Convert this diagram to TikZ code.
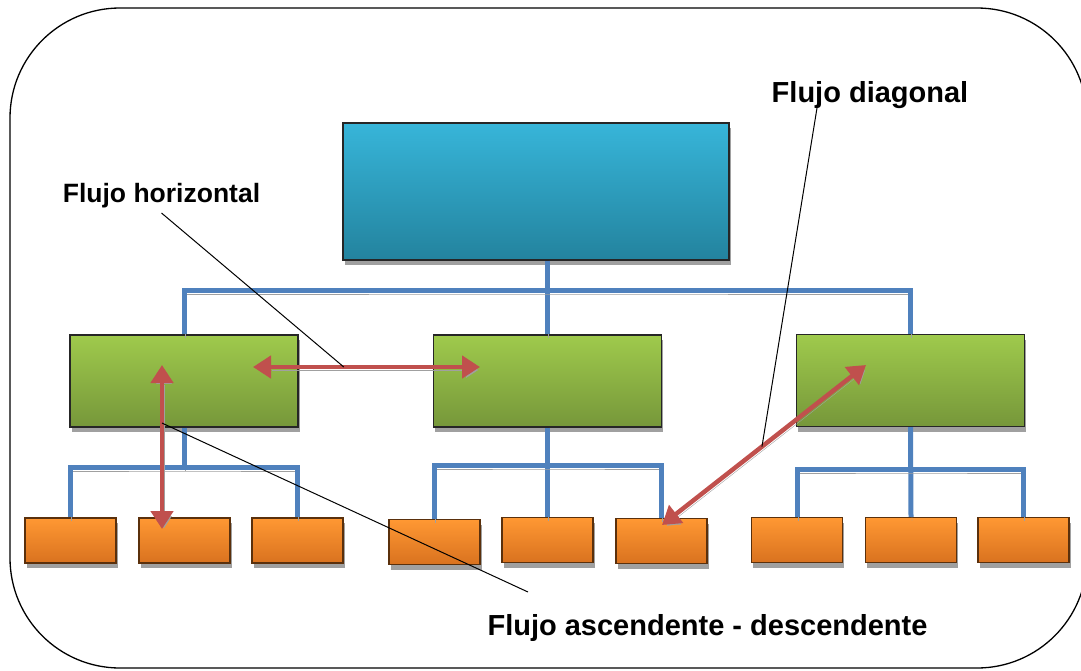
\documentclass[tikz,border=0pt]{standalone}
\usepackage{fontspec}
\setmainfont{Liberation Sans}
\usetikzlibrary{arrows.meta,positioning,calc,shadows}
\definecolor{linkblue}{HTML}{4F81BD}
\definecolor{flowred}{HTML}{C0504D}
\definecolor{shadowgray}{HTML}{A0A0A0}
\definecolor{headtop}{HTML}{37B5D9}
\definecolor{headbot}{HTML}{23839E}
\definecolor{depttop}{HTML}{9FCA4C}
\definecolor{deptbot}{HTML}{76973A}
\definecolor{leaftop}{HTML}{FF9833}
\definecolor{leafbot}{HTML}{D9721F}
\definecolor{leafedge}{HTML}{5A300C}

\begin{document}
\begin{tikzpicture}[
  x=1pt,y=-1pt,
  font=\bfseries\fontsize{26.5}{30}\selectfont,
  frame/.style={draw,line width=1.3pt,rounded corners=110pt},
  box/.style={draw=black!85,line width=1.3pt,inner sep=0pt,drop shadow={shadow xshift=1.5pt,shadow yshift=-5pt,fill=shadowgray,opacity=1}},
  topbox/.style={box,top color=headtop,bottom color=headbot,minimum width=386pt,minimum height=137pt},
  midbox/.style={box,top color=depttop,bottom color=deptbot,minimum width=228pt,minimum height=92pt},
  leafbox/.style={box,draw=leafedge,top color=leaftop,bottom color=leafbot,minimum width=91pt,minimum height=45pt},
  tree/.style={linkblue,line width=5pt,preaction={draw=shadowgray,transform canvas={shift={(1pt,-4pt)}}}},
  flow/.style={{Triangle[width=22pt,length=18pt]}-{Triangle[width=22pt,length=18pt]},flowred,line width=4.5pt,
    preaction={draw=shadowgray,transform canvas={shift={(2pt,-3pt)}}}},
  callout/.style={black,line width=1pt},
  lbl/.style={inner sep=0pt,anchor=base},
  biglbl/.style={lbl,font=\bfseries\fontsize{29}{33}\selectfont},
]
\useasboundingbox (0,0) rectangle (1081,670);
\draw[frame] (10,8) rectangle (1087,668);
% boxes
\node[topbox] (dir) at (536,191.5) {};
\node[midbox] (g1) at (184,381) {};
\node[midbox] (g2) at (547.5,381) {};
\node[midbox] (g3) at (910.5,380.5) {};
\node[leafbox] (o1) at (70.5,540.5) {};
\node[leafbox] (o2) at (184.5,540.5) {};
\node[leafbox] (o3) at (297.5,540.5) {};
\node[leafbox] (o4) at (434.5,542) {};
\node[leafbox] (o5) at (547.5,540) {};
\node[leafbox] (o6) at (661.5,541) {};
\node[leafbox] (o7) at (797,540) {};
\node[leafbox] (o8) at (911,540) {};
\node[leafbox] (o9) at (1023.5,540) {};
% tree lines
\coordinate (bus) at (547.5,290);
\coordinate (b1) at (184,467);
\coordinate (b2) at (547.5,465);
\coordinate (b3) at (910.5,469);
\draw[tree] (g2.north |- dir.south) -- (g2.north);
\draw[tree] (g1.north) |- (bus) -| (g3.north);
\draw[tree] (g1.south) -- (b1);
\draw[tree] (o1.north) |- (b1) -| (o3.north);
\draw[tree] (g2.south) -- (o5.north);
\draw[tree] (o4.north) |- (b2) -| (o6.north);
\draw[tree] (g3.south) -- (o8.north);
\draw[tree] (o7.north) |- (b3) -| (o9.north);
% flows
\coordinate (hl) at (253,367);
\coordinate (hr) at (480,367);
\coordinate (vt) at (162,365);
\coordinate (vb) at (162,529);
\coordinate (dl) at (662,525);
\coordinate (du) at (866,365);
\draw[flow] (hl) -- (hr);
\draw[flow] (vt) -- (vb);
\draw[flow] (dl) -- (du);
% labels
\node[lbl] (lh) at (161.5,202) {Flujo horizontal};
\node[biglbl] (ld) at (870,102) {Flujo diagonal};
\node[biglbl] (la) at (707.5,635) {Flujo ascendente - descendente};
\draw[callout] ([yshift=-11pt]lh.base) -- ($(hl)!0.4!(hr)$);
\draw[callout] ([xshift=-53pt,yshift=-6pt]ld.base) -- ($(dl)!0.49!(du)$);
\draw[callout] ([xshift=-179.5pt,yshift=43pt]la.base) -- ($(vt)!0.354!(vb)$);
\end{tikzpicture}
\end{document}
